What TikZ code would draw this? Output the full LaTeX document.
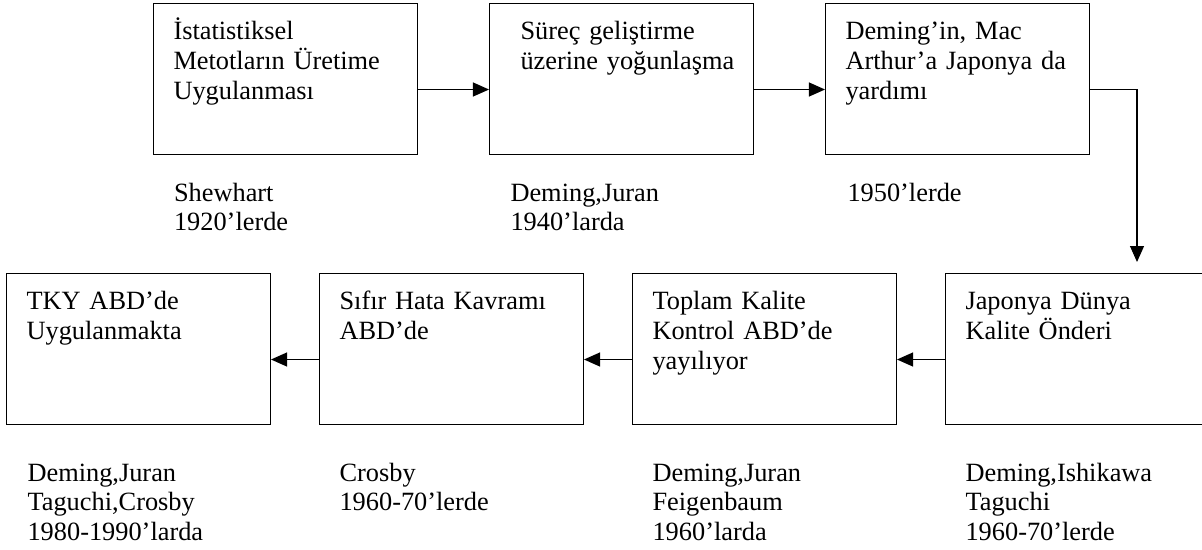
\documentclass[tikz,border=0pt]{standalone}
\usepackage{fontspec}
\setmainfont{Liberation Serif}
\usetikzlibrary{arrows.meta, positioning}

\begin{document}
\begin{tikzpicture}[x=0.02cm, y=-0.02cm, >={Triangle[length=0.32cm, width=0.28cm]}, line width=0.6pt,
    stage/.style={draw, rectangle, anchor=north west, align=left, font=\fontsize{15pt}{17pt}\selectfont,
        text width=4.48cm, inner xsep=0.4cm, inner ysep=0pt, text height=0.72cm, text depth=2.3cm},
    era/.style={anchor=base west, align=left, font=\fontsize{15pt}{17pt}\selectfont,
        text width=4.6cm, inner sep=0pt}]
    \useasboundingbox (0,0) rectangle (1202,550);

    % Top row
    \node[stage] (s1) at (153,3) {İstatistiksel\\ Metotların Üretime\\ Uygulanması};
    \node[stage, right=1.42cm of s1] (s2) {\hspace*{0.22cm}Süreç geliştirme\\ \hspace*{0.22cm}\mbox{üzerine yoğunlaşma}};
    \node[stage, right=1.42cm of s2] (s3) {Deming’in, Mac\\ Arthur’a Japonya da\\ yardımı};

    % Bottom row, right to left
    \node[stage] (s4) at (945,273) {Japonya Dünya\\ Kalite Önderi};
    \node[stage, left=0.96cm of s4] (s5) {Toplam Kalite\\ Kontrol ABD’de\\ yayılıyor};
    \node[stage, left=0.96cm of s5] (s6) {Sıfır Hata Kavramı\\ ABD’de};
    \node[stage, left=0.96cm of s6] (s7) {TKY ABD’de\\ Uygulanmakta};

    % Who and when
    \node[era] (e1) at ([xshift=0.41cm, yshift=-0.92cm]s1.south west) {Shewhart\\ 1920’lerde};
    \node[era] (e2) at ([xshift=0.42cm, yshift=-0.92cm]s2.south west) {Deming,Juran\\ 1940’larda};
    \node[era] (e3) at ([xshift=0.44cm, yshift=-0.92cm]s3.south west) {1950’lerde};
    \node[era] (e4) at ([xshift=0.4cm, yshift=-1.12cm]s4.south west) {Deming,Ishikawa\\ Taguchi\\ 1960-70’lerde};
    \node[era] (e5) at ([xshift=0.4cm, yshift=-1.12cm]s5.south west) {Deming,Juran\\ Feigenbaum\\ 1960’larda};
    \node[era] (e6) at ([xshift=0.4cm, yshift=-1.12cm]s6.south west) {Crosby\\ 1960-70’lerde};
    \node[era] (e7) at ([xshift=0.42cm, yshift=-1.12cm]s7.south west) {Deming,Juran\\ Taguchi,Crosby\\ 1980-1990’larda};

    \coordinate (drop) at (1137,262);

    \path[->]
    ([yshift=-0.21cm]s1.east) edge ([yshift=-0.21cm]s2.west)
    ([yshift=-0.21cm]s2.east) edge ([yshift=-0.21cm]s3.west)
    ([yshift=-0.21cm]s4.west) edge ([yshift=-0.21cm]s5.east)
    ([yshift=-0.21cm]s5.west) edge ([yshift=-0.21cm]s6.east)
    ([yshift=-0.21cm]s6.west) edge ([yshift=-0.21cm]s7.east);
    \draw[->] ([yshift=-0.21cm]s3.east) -| (drop);
\end{tikzpicture}
\end{document}
